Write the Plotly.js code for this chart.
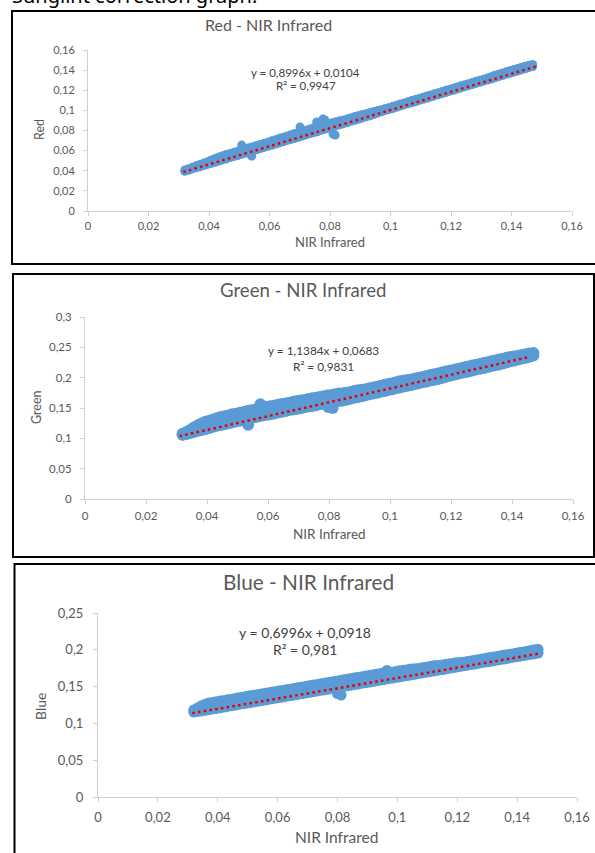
<!DOCTYPE html>
<html><head><meta charset="utf-8">
<script src="https://cdn.plot.ly/plotly-3.0.1.min.js"></script>
<style>html,body{margin:0;padding:0;background:#fff;}#chart{width:595px;height:853px;}</style>
</head><body><div id="chart"></div>
<script>
// ---------- data ----------
const xTickVals = [0, 0.02, 0.04, 0.06, 0.08, 0.1, 0.12, 0.14, 0.16];
const xTickText = ['0', '0,02', '0,04', '0,06', '0,08', '0,1', '0,12', '0,14', '0,16'];
const redTickVals = [0, 0.02, 0.04, 0.06, 0.08, 0.1, 0.12, 0.14, 0.16];
const redTickText = ['0', '0,02', '0,04', '0,06', '0,08', '0,1', '0,12', '0,14', '0,16'];
const greenTickVals = [0, 0.05, 0.1, 0.15, 0.2, 0.25, 0.3];
const greenTickText = ['0', '0,05', '0,1', '0,15', '0,2', '0,25', '0,3'];
const blueTickVals = [0, 0.05, 0.1, 0.15, 0.2, 0.25];
const blueTickText = ['0', '0,05', '0,1', '0,15', '0,2', '0,25'];

const chartTitles = ['Red - NIR Infrared', 'Green - NIR Infrared', 'Blue - NIR Infrared'];
const yTitles = ['Red', 'Green', 'Blue'];
const xTitle = 'NIR Infrared';
const equations = ['y = 0,8996x + 0,0104', 'y = 1,1384x + 0,0683', 'y = 0,6996x + 0,0918'];
const r2Texts = ['R² = 0,9947', 'R² = 0,9831', 'R² = 0,981'];

// NIR values of the point cloud (shared by the three bands)
const nirX = [0.032,0.0345,0.037,0.0395,0.042,0.0445,0.047,0.0495,0.052,0.0545,0.057,0.0595,0.062,0.0645,0.067,0.0695,0.072,0.0745,0.077,0.0795,0.082,0.0845,0.087,0.0895,0.092,0.0945,0.097,0.0995,0.102,0.1045,0.107,0.1095,0.112,0.1145,0.117,0.1195,0.122,0.1245,0.127,0.1295,0.132,0.1345,0.137,0.1395,0.142,0.1445,0.147];
const nirX2 = [0.03325,0.03575,0.03825,0.04075,0.04325,0.04575,0.04825,0.05075,0.05325,0.05575,0.05825,0.06075,0.06325,0.06575,0.06825,0.07075,0.07325,0.07575,0.07825,0.08075,0.08325,0.08575,0.08825,0.09075,0.09325,0.09575,0.09825,0.10075,0.10325,0.10575,0.10825,0.11075,0.11325,0.11575,0.11825,0.12075,0.12325,0.12575,0.12825,0.13075,0.13325,0.13575,0.13825,0.14075,0.14325,0.14575];

const redUpper = [0.0407,0.0434,0.0462,0.0489,0.0522,0.0549,0.0572,0.0594,0.0617,0.0639,0.0662,0.0684,0.0707,0.0734,0.0757,0.0779,0.0802,0.0824,0.0847,0.0864,0.0887,0.0904,0.0927,0.0949,0.0967,0.0989,0.1007,0.1029,0.1052,0.1074,0.1097,0.1119,0.1142,0.1164,0.1187,0.1209,0.1232,0.1254,0.1276,0.1299,0.1321,0.1349,0.1371,0.1394,0.1416,0.1439,0.1456];
const redLower = [0.0395,0.0418,0.0440,0.0463,0.0485,0.0508,0.0531,0.0552,0.0575,0.0598,0.0620,0.0643,0.0666,0.0688,0.0711,0.0733,0.0756,0.0778,0.0801,0.0823,0.0846,0.0868,0.0891,0.0913,0.0936,0.0958,0.0986,0.1009,0.1031,0.1054,0.1076,0.1099,0.1121,0.1144,0.1166,0.1189,0.1211,0.1234,0.1256,0.1279,0.1301,0.1324,0.1346,0.1369,0.1391,0.1414,0.1436];
const redUpper2 = [0.0420,0.0449,0.0476,0.0507,0.0537,0.0561,0.0584,0.0605,0.0629,0.0651,0.0674,0.0697,0.0722,0.0746,0.0769,0.0791,0.0814,0.0836,0.0856,0.0877,0.0896,0.0916,0.0939,0.0958,0.0979,0.0998,0.1019,0.1041,0.1064,0.1086,0.1109,0.1131,0.1154,0.1176,0.1199,0.1221,0.1244,0.1265,0.1289,0.1310,0.1335,0.1360,0.1383,0.1406,0.1428,0.1448];
const redLower2 = [0.0405,0.0429,0.0452,0.0473,0.0497,0.0518,0.0541,0.0564,0.0585,0.0609,0.0632,0.0653,0.0677,0.0700,0.0721,0.0745,0.0767,0.0788,0.0812,0.0835,0.0857,0.0878,0.0902,0.0925,0.0946,0.0972,0.0998,0.1019,0.1043,0.1065,0.1086,0.1110,0.1133,0.1154,0.1178,0.1199,0.1223,0.1244,0.1268,0.1290,0.1311,0.1335,0.1358,0.1380,0.1402,0.1425];
const redOutX = [0.0508,0.0541,0.0701,0.0756,0.0777,0.0783,0.0810,0.0817];
const redOutY = [0.0655,0.0545,0.0835,0.0885,0.0915,0.0905,0.0765,0.0755];

const greenUpper = [0.1077,0.1136,0.1214,0.1273,0.1311,0.1350,0.1378,0.1407,0.1435,0.1463,0.1482,0.1520,0.1539,0.1567,0.1586,0.1614,0.1633,0.1661,0.1680,0.1708,0.1726,0.1745,0.1763,0.1792,0.1810,0.1839,0.1867,0.1896,0.1924,0.1953,0.1971,0.2000,0.2028,0.2056,0.2085,0.2113,0.2142,0.2170,0.2199,0.2227,0.2256,0.2284,0.2313,0.2341,0.2360,0.2388,0.2407];
const greenLower = [0.1057,0.1086,0.1124,0.1153,0.1191,0.1220,0.1248,0.1277,0.1305,0.1333,0.1362,0.1390,0.1409,0.1437,0.1466,0.1484,0.1513,0.1531,0.1560,0.1578,0.1606,0.1625,0.1653,0.1682,0.1710,0.1739,0.1767,0.1796,0.1824,0.1853,0.1881,0.1910,0.1938,0.1966,0.1995,0.2033,0.2062,0.2090,0.2119,0.2147,0.2176,0.2204,0.2233,0.2271,0.2300,0.2328,0.2367];
const greenUpper2 = [0.1105,0.1178,0.1246,0.1290,0.1333,0.1362,0.1395,0.1420,0.1451,0.1471,0.1503,0.1528,0.1555,0.1575,0.1601,0.1622,0.1648,0.1669,0.1695,0.1715,0.1737,0.1753,0.1779,0.1800,0.1826,0.1852,0.1883,0.1909,0.1940,0.1961,0.1987,0.2013,0.2043,0.2070,0.2100,0.2127,0.2157,0.2184,0.2214,0.2241,0.2271,0.2298,0.2328,0.2350,0.2375,0.2397];
const greenLower2 = [0.1072,0.1104,0.1139,0.1171,0.1206,0.1233,0.1263,0.1290,0.1320,0.1346,0.1377,0.1398,0.1424,0.1450,0.1476,0.1497,0.1523,0.1544,0.1570,0.1591,0.1616,0.1638,0.1668,0.1695,0.1725,0.1752,0.1782,0.1809,0.1839,0.1866,0.1896,0.1923,0.1953,0.1979,0.2015,0.2046,0.2077,0.2103,0.2134,0.2160,0.2191,0.2217,0.2253,0.2284,0.2315,0.2346];
const greenOutX = [0.0535,0.0575,0.0798,0.0812];
const greenOutY = [0.1225,0.1560,0.1515,0.1500];

const blueUpper = [0.1182,0.1239,0.1277,0.1294,0.1312,0.1329,0.1347,0.1364,0.1382,0.1399,0.1417,0.1434,0.1452,0.1469,0.1487,0.1504,0.1522,0.1539,0.1557,0.1574,0.1592,0.1609,0.1627,0.1644,0.1662,0.1679,0.1687,0.1704,0.1722,0.1739,0.1747,0.1764,0.1782,0.1789,0.1807,0.1824,0.1832,0.1849,0.1866,0.1884,0.1901,0.1919,0.1936,0.1954,0.1971,0.1989,0.2006];
const blueLower = [0.1155,0.1170,0.1187,0.1204,0.1222,0.1239,0.1257,0.1274,0.1292,0.1309,0.1327,0.1344,0.1362,0.1379,0.1397,0.1414,0.1432,0.1449,0.1467,0.1484,0.1502,0.1519,0.1537,0.1554,0.1572,0.1589,0.1607,0.1624,0.1642,0.1659,0.1677,0.1694,0.1712,0.1729,0.1747,0.1764,0.1782,0.1799,0.1816,0.1834,0.1851,0.1869,0.1886,0.1904,0.1921,0.1939,0.1956];
const blueUpper2 = [0.1210,0.1259,0.1285,0.1304,0.1320,0.1339,0.1355,0.1374,0.1390,0.1409,0.1425,0.1444,0.1460,0.1479,0.1495,0.1514,0.1530,0.1549,0.1565,0.1584,0.1600,0.1619,0.1635,0.1654,0.1670,0.1684,0.1695,0.1714,0.1730,0.1744,0.1755,0.1774,0.1785,0.1799,0.1815,0.1829,0.1840,0.1859,0.1874,0.1894,0.1909,0.1929,0.1944,0.1964,0.1979,0.1999];
const blueLower2 = [0.1163,0.1177,0.1196,0.1212,0.1231,0.1247,0.1266,0.1282,0.1301,0.1317,0.1336,0.1352,0.1371,0.1387,0.1406,0.1422,0.1441,0.1457,0.1476,0.1492,0.1511,0.1527,0.1546,0.1562,0.1581,0.1597,0.1616,0.1632,0.1651,0.1667,0.1686,0.1702,0.1721,0.1737,0.1756,0.1772,0.1791,0.1806,0.1826,0.1841,0.1861,0.1876,0.1896,0.1911,0.1931,0.1946];
const blueOutX = [0.0800,0.0812,0.0965];
const blueOutY = [0.1405,0.1385,0.1720];

// linear trend lines (end points)
const redTrendX = [0.0315, 0.1485];   const redTrendY = [0.0387, 0.1440];
const greenTrendX = [0.031, 0.146];   const greenTrendY = [0.1036, 0.2345];
const blueTrendX = [0.0315, 0.1475];  const blueTrendY = [0.1138, 0.1950];

const headerText = 'Sunglint correction graph.';

// ---------- layout helpers ----------
const W = 595, H = 853;
const FONT = 'Lato, "Open Sans", sans-serif';
const GREY = '#595959';
const PT = 'rgb(91,155,213)';
const TR = 'rgb(230,0,0)';
const fx = p => p / W;
const fy = p => 1 - p / H;

function xAx(l, r, anchor, size, so) {
  return {domain: [fx(l), fx(r)], anchor: anchor, range: [0, 0.16], tickvals: xTickVals, ticktext: xTickText,
    showline: true, linecolor: '#D0D0D0', linewidth: 1, ticks: 'outside', ticklen: 4, tickcolor: '#D0D0D0',
    showgrid: false, zeroline: false, tickfont: {family: FONT, size: size, color: GREY}, ticklabelstandoff: so, fixedrange: true};
}
function yAx(top, bot, anchor, max, vals, text, size, so) {
  return {domain: [fy(bot), fy(top)], anchor: anchor, range: [0, max], tickvals: vals, ticktext: text,
    showline: true, linecolor: '#D0D0D0', linewidth: 1, ticks: 'outside', ticklen: 4, tickcolor: '#D0D0D0',
    showgrid: false, zeroline: false, tickfont: {family: FONT, size: size, color: GREY}, ticklabelstandoff: so, fixedrange: true};
}
function cloud(up, lo, up2, lo2, ox, oy, xa, ya, size) {
  return {type: 'scatter', mode: 'markers',
    x: nirX.concat(nirX, nirX2, nirX2, ox), y: up.concat(lo, up2, lo2, oy), xaxis: xa, yaxis: ya,
    marker: {color: PT, size: size, line: {width: 0}}, hoverinfo: 'skip', showlegend: false};
}
function trend(tx, ty, xa, ya) {
  return {type: 'scatter', mode: 'lines', x: tx, y: ty, xaxis: xa, yaxis: ya,
    line: {color: TR, width: 2.5, dash: '2.5px,3.3px'}, hoverinfo: 'skip', showlegend: false};
}
function ann(text, cx, cy, size, opts) {
  return Object.assign({text: text, x: fx(cx), y: fy(cy), xref: 'paper', yref: 'paper', showarrow: false,
    xanchor: 'center', yanchor: 'middle', font: {family: FONT, size: size, color: GREY}}, opts || {});
}
function eq(text, cx, cy, size) {
  return ann(text, cx, cy, size, {font: {family: FONT, size: size, color: '#404040'}});
}
function frame(l, t, r, b) {
  return {type: 'rect', xref: 'paper', yref: 'paper', x0: fx(l), x1: fx(r), y0: fy(b), y1: fy(t),
    line: {color: '#000', width: 2}, fillcolor: 'rgba(0,0,0,0)'};
}

const data = [
  cloud(redUpper, redLower, redUpper2, redLower2, redOutX, redOutY, 'x', 'y', 9),
  trend(redTrendX, redTrendY, 'x', 'y'),
  cloud(greenUpper, greenLower, greenUpper2, greenLower2, greenOutX, greenOutY, 'x2', 'y2', 12),
  trend(greenTrendX, greenTrendY, 'x2', 'y2'),
  cloud(blueUpper, blueLower, blueUpper2, blueLower2, blueOutX, blueOutY, 'x3', 'y3', 11),
  trend(blueTrendX, blueTrendY, 'x3', 'y3')
];

const layout = {
  width: W, height: H, margin: {l: 0, r: 0, t: 0, b: 0}, paper_bgcolor: '#fff', plot_bgcolor: 'rgba(0,0,0,0)',
  showlegend: false, separators: ',.',
  xaxis: xAx(88, 572, 'y', 11, 1),
  yaxis: yAx(50, 211, 'x', 0.16, redTickVals, redTickText, 11, 6),
  xaxis2: xAx(85, 573, 'y2', 11.5, 2),
  yaxis2: yAx(317, 499, 'x2', 0.3, greenTickVals, greenTickText, 11.5, 6),
  xaxis3: xAx(98, 577, 'y3', 13, 4),
  yaxis3: yAx(613, 797, 'x3', 0.25, blueTickVals, blueTickText, 13, 7),
  shapes: [frame(12, 11, 598, 264), frame(13, 274, 594, 557), frame(14.5, 564, 598, 860)],
  annotations: [
    {text: headerText, x: fx(10), y: fy(11), xref: 'paper', yref: 'paper', showarrow: false, xanchor: 'left', yanchor: 'bottom',
     font: {family: '"Noto Sans", sans-serif', size: 20, color: '#000'}},
    ann(chartTitles[0], 268, 25, 16),
    eq(equations[0], 306, 72, 11.5),
    eq(r2Texts[0], 306, 85.5, 11.5),
    ann(xTitle, 330, 242, 13),
    ann(yTitles[0], 40, 130, 12.5, {textangle: -90}),

    ann(chartTitles[1], 303, 290, 18.6),
    eq(equations[1], 323, 351, 11.8),
    eq(r2Texts[1], 323, 366, 11.8),
    ann(xTitle, 329, 534, 13.5),
    ann(yTitles[1], 36, 407, 12.5, {textangle: -90}),

    ann(chartTitles[2], 308, 581, 20.8),
    eq(equations[2], 305, 632, 14),
    eq(r2Texts[2], 305, 649, 14),
    ann(xTitle, 336, 837, 15.5),
    ann(yTitles[2], 40, 707, 14, {textangle: -90})
  ]
};

Plotly.newPlot('chart', data, layout, {staticPlot: true, displayModeBar: false});
</script>
</body></html>
